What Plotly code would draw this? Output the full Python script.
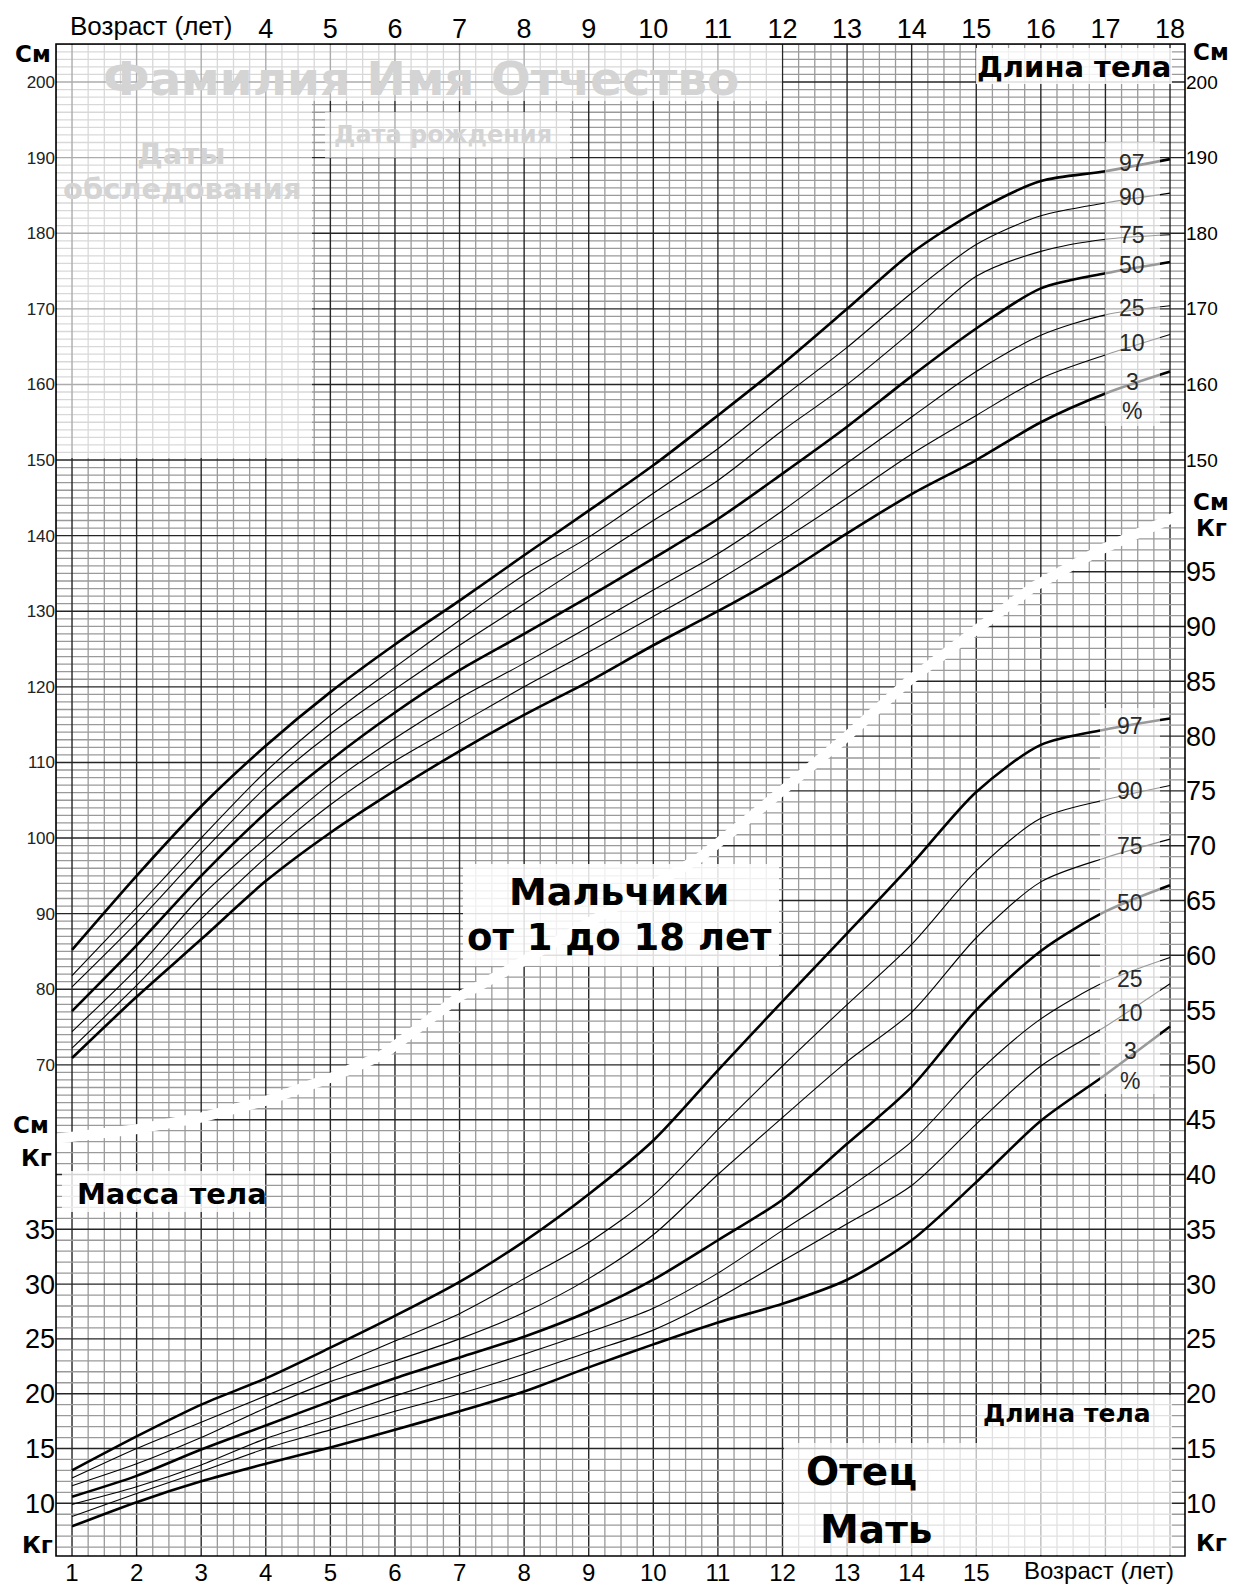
import numpy as np
import plotly.graph_objects as go

# ---------------- data ----------------
ages = list(range(1, 19))
pct_labels = ["97", "90", "75", "50", "25", "10", "3"]

height_p97 = [85.2, 95.0, 104.2, 112.2, 119.3, 125.6, 131.4, 137.4, 143.3, 149.3, 155.9, 162.7, 170.0, 177.4, 182.9, 186.9, 188.2, 189.8]
height_p90 = [81.8, 90.8, 100.0, 108.8, 116.2, 122.6, 128.8, 134.8, 139.8, 145.6, 151.5, 158.3, 164.9, 172.1, 178.5, 182.3, 184.0, 185.3]
height_p75 = [80.3, 88.8, 98.0, 106.7, 113.8, 119.7, 125.5, 131.0, 136.5, 142.0, 147.3, 153.9, 160.0, 167.0, 174.3, 177.6, 179.2, 179.8]
height_p50 = [77.1, 85.8, 95.0, 103.3, 110.3, 116.6, 122.2, 127.0, 131.9, 137.0, 142.2, 148.2, 154.4, 161.1, 167.4, 172.7, 174.7, 176.2]
height_p25 = [74.4, 82.7, 92.3, 100.0, 107.2, 113.2, 118.5, 123.1, 127.9, 132.8, 137.6, 143.3, 149.6, 155.7, 161.7, 166.5, 169.2, 170.4]
height_p10 = [72.2, 80.5, 89.3, 97.4, 104.4, 110.2, 115.1, 120.0, 124.6, 129.3, 134.1, 139.4, 145.0, 150.8, 155.9, 160.8, 163.9, 166.6]
height_p3 = [70.9, 79.0, 86.6, 94.3, 100.7, 106.3, 111.5, 116.3, 120.7, 125.5, 130.0, 134.8, 140.3, 145.5, 150.0, 155.0, 158.8, 161.7]

weight_p97 = [13.0, 16.1, 19.0, 21.4, 24.2, 27.1, 30.2, 33.9, 38.2, 43.1, 49.5, 55.8, 62.0, 68.3, 74.9, 79.2, 80.6, 81.6]
weight_p90 = [12.3, 15.0, 17.4, 19.8, 22.3, 24.8, 27.3, 30.5, 33.8, 38.1, 44.1, 49.9, 55.5, 61.0, 67.7, 72.5, 74.2, 75.5]
weight_p75 = [11.6, 13.6, 16.0, 18.7, 21.1, 23.0, 25.0, 27.4, 30.5, 34.5, 40.0, 45.2, 50.3, 54.8, 61.6, 66.7, 68.9, 70.6]
weight_p50 = [10.6, 12.5, 14.9, 17.1, 19.3, 21.4, 23.3, 25.2, 27.5, 30.4, 34.0, 37.7, 42.8, 48.0, 55.0, 60.4, 64.0, 66.4]
weight_p25 = [9.9, 11.5, 13.5, 15.9, 17.8, 19.8, 21.7, 23.6, 25.6, 27.8, 31.0, 34.9, 38.7, 43.0, 49.2, 54.2, 57.6, 59.8]
weight_p10 = [8.8, 10.9, 12.9, 15.0, 16.7, 18.4, 20.0, 21.8, 23.8, 25.8, 28.7, 32.1, 35.5, 39.0, 44.6, 49.9, 53.5, 57.4]
weight_p3 = [7.9, 10.1, 12.0, 13.6, 15.1, 16.7, 18.4, 20.2, 22.4, 24.5, 26.5, 28.2, 30.4, 34.0, 39.3, 44.9, 49.1, 53.5]

height_series = [height_p97, height_p90, height_p75, height_p50, height_p25, height_p10, height_p3]
weight_series = [weight_p97, weight_p90, weight_p75, weight_p50, weight_p25, weight_p10, weight_p3]

bottom_age_ticks = list(range(1, 16))
top_age_ticks = list(range(4, 19))
cm_left_ticks = list(range(70, 201, 10))
cm_right_ticks = list(range(150, 201, 10))
kg_left_ticks = list(range(10, 36, 5))
kg_right_ticks = list(range(10, 96, 5))

# boundary between the height field (above) and the weight field (below), age / cm
sep_age = [0.70, 1.94, 2.98, 4.02, 5.04, 5.81, 7.01, 7.72, 10.72, 11.65, 12.94, 13.97, 15.88, 16.92, 18.30]
sep_cm = [60.2, 61.4, 63.0, 65.3, 68.4, 71.3, 79.1, 82.4, 97.4, 103.8, 113.0, 120.9, 133.2, 138.1, 143.3]

# ---------------- layout constants ----------------
W, H = 1240, 1586
ML, MR, MT, MB = 56, 55, 44, 30
X_RANGE = [0.752, 18.232]
CM_RANGE = [5.03, 205.03]
KG_RANGE = [5.19, 143.15]

NUM = "Liberation Sans, Arial, sans-serif"
SANS = "Liberation Sans, Arial, sans-serif"
WIDE = "DejaVu Sans, Verdana, sans-serif"
MINOR = "#9a9a9a"
MAJOR = "#262626"


def px(x):
    return (x - ML) / (W - ML - MR)


def py(y):
    return (H - MB - y) / (H - MT - MB)


def cm_of_kg(w):
    return CM_RANGE[0] + (w - KG_RANGE[0]) * (CM_RANGE[1] - CM_RANGE[0]) / (KG_RANGE[1] - KG_RANGE[0])


sa = np.array(sep_age)
sc = np.array(sep_cm)

fig = go.Figure()

# ---------------- grid ----------------
vmx, vmy, vMx, vMy = [], [], [], []
for i in range(3, 74):
    a = i * 0.25
    if i % 4 == 0:
        vMx += [a, a, None]; vMy += [CM_RANGE[0], CM_RANGE[1], None]
    else:
        vmx += [a, a, None]; vmy += [CM_RANGE[0], CM_RANGE[1], None]

hmx, hmy, hMx, hMy = [], [], [], []
for h in range(6, 206):
    if h <= sc[0]:
        continue
    xe = X_RANGE[1] if h >= sc[-1] else float(np.interp(h, sc, sa))
    if h % 10 == 0:
        hMx += [X_RANGE[0], xe, None]; hMy += [h, h, None]
    else:
        hmx += [X_RANGE[0], xe, None]; hmy += [h, h, None]

kmx, kmy, kMx, kMy = [], [], [], []
for w in range(6, 144):
    c = cm_of_kg(w)
    if c >= sc[-1]:
        continue
    xs = X_RANGE[0] if c <= sc[0] else float(np.interp(c, sc, sa))
    if w % 5 == 0:
        kMx += [xs, X_RANGE[1], None]; kMy += [w, w, None]
    else:
        kmx += [xs, X_RANGE[1], None]; kmy += [w, w, None]


def gl(x, y, color, width, yaxis="y"):
    return go.Scatter(x=x, y=y, mode="lines", line=dict(color=color, width=width),
                      hoverinfo="skip", showlegend=False, yaxis=yaxis, xaxis="x")


fig.add_trace(gl(hmx, hmy, MINOR, 1.3))
fig.add_trace(gl(vmx, vmy, MINOR, 1.3))
fig.add_trace(gl(hMx, hMy, MAJOR, 1.4))
fig.add_trace(gl(vMx, vMy, MAJOR, 1.4))

# height curves
for lab, vals in zip(pct_labels, height_series):
    thick = lab in ("97", "50", "3")
    fig.add_trace(go.Scatter(x=ages, y=vals, mode="lines", name="Рост P" + lab,
                             line=dict(color="black", width=2.6 if thick else 1.1, shape="spline", smoothing=0.8),
                             showlegend=False, xaxis="x", yaxis="y"))

# weight grid and curves (kg axis)
fig.add_trace(gl(kmx, kmy, MINOR, 1.3, "y2"))
fig.add_trace(gl(kMx, kMy, MAJOR, 1.4, "y2"))
for lab, vals in zip(pct_labels, weight_series):
    thick = lab in ("97", "50", "3")
    fig.add_trace(go.Scatter(x=ages, y=vals, mode="lines", name="Масса P" + lab,
                             line=dict(color="black", width=2.6 if thick else 1.1, shape="spline", smoothing=0.8),
                             showlegend=False, xaxis="x", yaxis="y2"))

# invisible traces so the extra axes are drawn
fig.add_trace(go.Scatter(x=[10], y=[100], mode="markers", marker=dict(opacity=0), hoverinfo="skip",
                         showlegend=False, xaxis="x2", yaxis="y3"))
fig.add_trace(go.Scatter(x=[10], y=[50], mode="markers", marker=dict(opacity=0), hoverinfo="skip",
                         showlegend=False, xaxis="x", yaxis="y4"))

# ---------------- shapes ----------------
shapes = []


def xp(a):
    return (a - X_RANGE[0]) / (X_RANGE[1] - X_RANGE[0])


def yp(c):
    return (c - CM_RANGE[0]) / (CM_RANGE[1] - CM_RANGE[0])


band_path = "M " + " L ".join(f"{xp(a):.5f},{yp(c):.5f}" for a, c in zip(sep_age, sep_cm))
shapes.append(dict(type="path", path=band_path, xref="paper", yref="paper", layer="above",
                   line=dict(color="white", width=10)))


def box(x0, y0, x1, y1, alpha):
    return dict(type="rect", xref="paper", yref="paper", x0=px(x0), x1=px(x1), y0=py(y1), y1=py(y0),
                fillcolor=f"rgba(255,255,255,{alpha})", line=dict(width=0), layer="above")


shapes += [
    box(57, 45, 782, 101, 0.62),     # name
    box(57, 101, 312, 458, 0.62),    # exam dates
    box(325, 112, 570, 158, 0.62),   # birth date
    box(976, 48, 1172, 84, 0.85),    # Длина тела (top)
    box(62, 1171, 265, 1212, 0.8),   # Масса тела
    box(463, 864, 779, 966, 0.85),   # title
    box(1105, 142, 1160, 426, 0.6),  # height pct labels
    box(1100, 708, 1160, 1094, 0.6), # weight pct labels
    box(977, 1395, 1172, 1555, 0.7), # Длина тела (bottom)
    box(784, 1443, 977, 1555, 0.7),  # parents
]
shapes.append(dict(type="rect", xref="paper", yref="paper", x0=0, x1=1, y0=0, y1=1,
                   line=dict(color="black", width=1.6), layer="above"))

# ---------------- annotations ----------------
ann = []


def txt(s, x, y, size, bold=False, color="black", family=SANS):
    ann.append(dict(text=("<b>%s</b>" % s) if bold else s, x=px(x), y=py(y), xref="paper", yref="paper",
                    showarrow=False, xanchor="center", yanchor="middle",
                    font=dict(size=size, color=color, family=family)))


FADE = "#d4d4d4"
txt("Фамилия Имя Отчество", 421, 79, 47, True, FADE, WIDE)
txt("Дата рождения", 443, 135, 24, True, FADE, WIDE)
txt("Даты", 181, 154, 29, True, FADE, WIDE)
txt("обследования", 182, 189, 29, True, FADE, WIDE)

txt("Длина тела", 1074, 67, 29, True, family=WIDE)
txt("Масса тела", 172, 1194, 29, True, family=WIDE)
txt("Мальчики", 619, 892, 38, True, family=WIDE)
txt("от 1 до 18 лет", 619, 937, 37, True, family=WIDE)
txt("Длина тела", 1067, 1413, 25, True, family=WIDE)
txt("Отец", 861, 1471, 39, True, family=WIDE)
txt("Мать", 876, 1529, 39, True, family=WIDE)

txt("Возраст (лет)", 151, 26, 26)
txt("Возраст (лет)", 1099, 1570, 24)

txt("См", 33, 54, 23, True, family=WIDE)
txt("См", 1211, 52, 23, True, family=WIDE)
txt("См", 1211, 502, 23, True, family=WIDE)
txt("Кг", 1211, 528, 23, True, family=WIDE)
txt("См", 31, 1125, 23, True, family=WIDE)
txt("Кг", 36, 1158, 23, True, family=WIDE)
txt("Кг", 37, 1545, 23, True, family=WIDE)
txt("Кг", 1211, 1543, 23, True, family=WIDE)

h_lab_pos = [163, 197, 235, 265, 308, 343, 382]
w_lab_pos = [726, 791, 846, 903, 979, 1013, 1051]
for lab, yy in zip(pct_labels, h_lab_pos):
    txt(lab, 1132, yy, 23, color="#2a2a2a")
txt("%", 1132, 411, 23, color="#2a2a2a")
for lab, yy in zip(pct_labels, w_lab_pos):
    txt(lab, 1130, yy, 23, color="#2a2a2a")
txt("%", 1130, 1081, 23, color="#2a2a2a")

# ---------------- axes ----------------
common = dict(showgrid=False, zeroline=False, showline=False, ticks="", fixedrange=True, automargin=False)
fig.update_layout(
    width=W, height=H, autosize=False,
    margin=dict(l=ML, r=MR, t=MT, b=MB, pad=0),
    paper_bgcolor="white", plot_bgcolor="white",
    showlegend=False,
    xaxis=dict(range=X_RANGE, tickmode="array", tickvals=bottom_age_ticks,
               ticktext=[str(a) for a in bottom_age_ticks], side="bottom", anchor="y",
               tickfont=dict(size=24, family=NUM, color="black"), **common),
    xaxis2=dict(range=X_RANGE, overlaying="x", side="top", anchor="y", tickmode="array",
                tickvals=top_age_ticks, ticktext=[str(a) for a in top_age_ticks],
                tickfont=dict(size=27, family=NUM, color="black"), **common),
    yaxis=dict(range=CM_RANGE, tickmode="array", tickvals=cm_left_ticks,
               ticktext=[str(v) for v in cm_left_ticks], side="left", anchor="x",
               tickfont=dict(size=17, family=NUM, color="#222"), **common),
    yaxis2=dict(range=KG_RANGE, overlaying="y", side="left", anchor="x", tickmode="array",
                tickvals=kg_left_ticks, ticktext=[str(v) for v in kg_left_ticks],
                tickfont=dict(size=27, family=NUM, color="black"), **common),
    yaxis3=dict(range=CM_RANGE, overlaying="y", side="right", anchor="x2", tickmode="array",
                tickvals=cm_right_ticks, ticktext=[str(v) for v in cm_right_ticks],
                tickfont=dict(size=19, family=NUM, color="black"), **common),
    yaxis4=dict(range=KG_RANGE, overlaying="y", side="right", anchor="x", tickmode="array",
                tickvals=kg_right_ticks, ticktext=[str(v) for v in kg_right_ticks],
                tickfont=dict(size=27, family=NUM, color="black"), **common),
    shapes=shapes,
    annotations=ann,
)

fig.write_html("out.html", config={"displayModeBar": False},
               post_script="document.body.style.margin='0px';")
